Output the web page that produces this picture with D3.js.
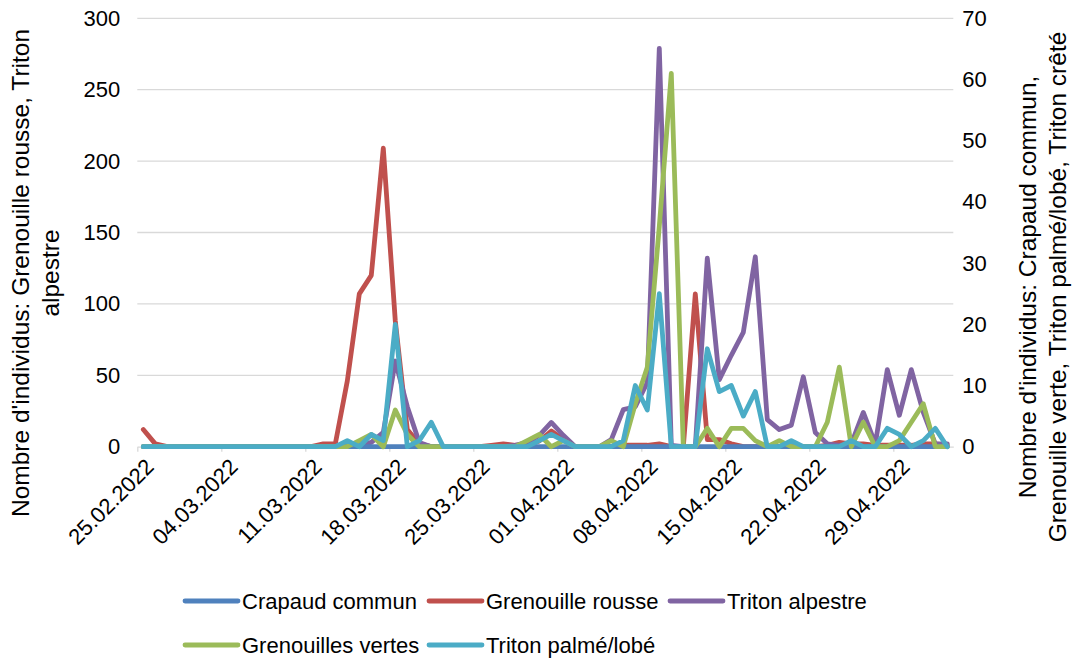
<!DOCTYPE html>
<html>
<head>
<meta charset="utf-8">
<script src="https://cdn.jsdelivr.net/npm/d3@7/dist/d3.min.js"></script>
<style>
  html, body { margin: 0; padding: 0; background: #ffffff; }
  svg { display: block; }
  text { font-family: "Liberation Sans", Arial, sans-serif; fill: #000; }
</style>
</head>
<body>
<svg id="chart" width="1078" height="663"></svg>
<script>
// ---------- DATA ----------
const startDate = "25.02.2022";
const endDate = "04.05.2022"; // exclusive end of the daily series (last day 03.05.2022)
const tickLabels = ["25.02.2022","04.03.2022","11.03.2022","18.03.2022","25.03.2022",
  "01.04.2022","08.04.2022","15.04.2022","22.04.2022","29.04.2022"];

const seriesNames = ["Crapaud commun","Grenouille rousse","Triton alpestre","Grenouilles vertes","Triton palmé/lobé"];
const seriesColors = ["#4F81BD","#C0504D","#8064A2","#9BBB59","#4BACC6"];
const seriesAxis = ["right","left","left","right","right"];

// day index 0 = 25.02.2022 ... 67 = 03.05.2022
const crapaudCommun = [
  0,0,0,0,0,0,0,0,0,0, 0,0,0,0,0,0,0,0,0,0,
  0,0,0,0,0,0,0,0,0,0, 0,0,0,0,0,0,0,0,0,0,
  0,0,0,0,0,0,0,0,0,0, 0,0,0,0,0,0,0,0,0,0,
  0,0,0,0,0,0,0,0];
const grenouilleRousse = [
  12,2,0,0,0,0,0,0,0,0, 0,0,0,0,0,2,2,46,107,120,
  209,88,12,2,0,0,0,0,0,1, 2,1,1,4,11,5,0,0,0,0,
  1,1,1,2,0,0,107,5,5,2, 0,0,0,0,0,0,0,1,3,2,
  2,1,1,1,1,2,2,1];
const tritonAlpestre = [
  0,0,0,0,0,0,0,0,0,0, 0,0,0,0,0,0,0,0,1,3,
  10,60,28,3,0,0,0,0,0,0, 0,1,3,8,17,8,0,0,0,5,
  26,28,45,279,1,0,0,132,47,64, 80,133,19,12,15,49,10,2,1,2,
  24,2,54,22,54,24,2,2];
const grenouillesVertes = [
  0,0,0,0,0,0,0,0,0,0, 0,0,0,0,0,0,0,0,1,2,
  0,6,2,0,0,0,0,0,0,0, 0,0,1,2,0,1,0,0,0,1,
  0,7,13,36,61,0,0,3,0,3, 3,1,0,1,0,0,0,4,13,0,
  4,0,0,1,4,7,0,0];
const tritonPalme = [
  0,0,0,0,0,0,0,0,0,0, 0,0,0,0,0,0,0,1,0,2,
  1,20,0,1,4,0,0,0,0,0, 0,0,0,1,2,1,0,0,0,0,
  1,10,6,25,0,0,0,16,9,10, 5,9,0,0,1,0,0,0,0,1,
  0,0,3,2,0,1,3,0];
const seriesValues = [crapaudCommun, grenouilleRousse, tritonAlpestre, grenouillesVertes, tritonPalme];

const leftTicks = [0,50,100,150,200,250,300];
const rightTicks = [0,10,20,30,40,50,60,70];
const leftTitle = ["Nombre d'individus: Grenouille rousse, Triton", "alpestre"];
const rightTitle = ["Nombre d'individus: Crapaud commun,", "Grenouille verte, Triton palmé/lobé, Triton crêté"];

// ---------- LAYOUT ----------
const plot = { left: 137.3, right: 953.3, top: 18.3, bottom: 446.7 };
const parse = d3.utcParse("%d.%m.%Y");
const fmt = d3.utcFormat("%d.%m.%Y");
const dates = d3.utcDay.range(parse(startDate), parse(endDate));

const x = d3.scaleUtc().domain([parse(startDate), parse(endDate)]).range([plot.left, plot.right]);
const yL = d3.scaleLinear().domain([0, 300]).range([plot.bottom, plot.top]);
const yR = d3.scaleLinear().domain([0, 70]).range([plot.bottom, plot.top]);
const mid = d => d3.utcHour.offset(d, 12);

const svg = d3.select("#chart");
const FS = 22;
const TFS = 24.5;
const FF = "Liberation Sans, Arial, sans-serif";

// gridlines
svg.append("g").selectAll("line").data(leftTicks.filter(v => v > 0)).join("line")
  .attr("x1", plot.left).attr("x2", plot.right)
  .attr("y1", d => yL(d)).attr("y2", d => yL(d))
  .attr("stroke", "#D9D9D9").attr("stroke-width", 1.3);

// x axis
const xAxis = d3.axisBottom(x)
  .tickValues(tickLabels.map(parse))
  .tickFormat(fmt)
  .tickSizeInner(5).tickSizeOuter(0);
const gx = svg.append("g").attr("transform", `translate(0,${plot.bottom})`).call(xAxis);
gx.select(".domain").attr("stroke", "#D9D9D9").attr("stroke-width", 1.3);
gx.selectAll(".tick line").attr("stroke", "#D9D9D9").attr("stroke-width", 1.3);
gx.selectAll(".tick text")
  .attr("font-size", FS).attr("font-family", FF)
  .attr("fill", "#000")
  .attr("text-anchor", "end")
  .attr("y", 0).attr("dy", "0.35em")
  .attr("transform", "translate(12,16) rotate(-45)");

// left axis
const gl = svg.append("g").attr("transform", `translate(${plot.left},0)`)
  .call(d3.axisLeft(yL).tickValues(leftTicks).tickSize(0).tickPadding(17));
gl.select(".domain").remove();
gl.selectAll("text").attr("font-size", FS).attr("font-family", FF).attr("fill", "#000");

// right axis
const gr = svg.append("g").attr("transform", `translate(${plot.right},0)`)
  .call(d3.axisRight(yR).tickValues(rightTicks).tickSize(0).tickPadding(9));
gr.select(".domain").remove();
gr.selectAll("text").attr("font-size", FS).attr("font-family", FF).attr("fill", "#000");

// axis titles
const cyL = 273;
svg.append("text").attr("transform", `translate(29,${cyL}) rotate(-90)`)
  .attr("text-anchor", "middle").attr("font-size", TFS).text(leftTitle[0]);
svg.append("text").attr("transform", `translate(59,${cyL}) rotate(-90)`)
  .attr("text-anchor", "middle").attr("font-size", TFS).text(leftTitle[1]);
const cyR = 287;
svg.append("text").attr("transform", `translate(1036,${cyR}) rotate(-90)`)
  .attr("text-anchor", "middle").attr("font-size", TFS).text(rightTitle[0]);
svg.append("text").attr("transform", `translate(1066,${cyR}) rotate(-90)`)
  .attr("text-anchor", "middle").attr("font-size", TFS).text(rightTitle[1]);

// lines: primary-axis series first, then secondary
const order = [1, 2, 0, 3, 4];
const gLines = svg.append("g");
order.forEach(i => {
  const ys = seriesAxis[i] === "left" ? yL : yR;
  const line = d3.line().x((v, k) => x(mid(dates[k]))).y(v => ys(v));
  gLines.append("path").datum(seriesValues[i])
    .attr("d", line)
    .attr("fill", "none")
    .attr("stroke", seriesColors[i])
    .attr("stroke-width", 4.8)
    .attr("stroke-linejoin", "round")
    .attr("stroke-linecap", "round");
});

// legend
const legendPos = [[183, 601], [427, 601], [668, 601], [183, 645], [427, 645]];
const lg = svg.append("g");
seriesNames.forEach((name, i) => {
  const [lx, ly] = legendPos[i];
  lg.append("line").attr("x1", lx + 2).attr("x2", lx + 55).attr("y1", ly).attr("y2", ly)
    .attr("stroke", seriesColors[i]).attr("stroke-width", 4.8).attr("stroke-linecap", "round");
  lg.append("text").attr("x", lx + 59).attr("y", ly).attr("dy", "0.35em")
    .attr("font-size", FS).text(name);
});
</script>
</body>
</html>
